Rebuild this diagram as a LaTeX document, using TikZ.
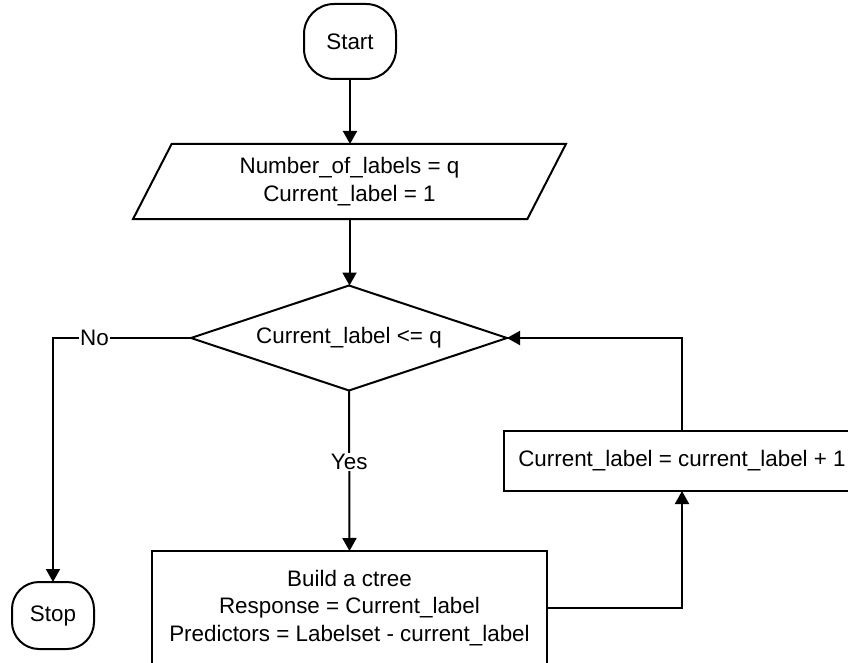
\documentclass[tikz,border=0pt]{standalone}
\usepackage{fontspec}
\setmainfont{Liberation Sans}
\usetikzlibrary{shapes.geometric,arrows.meta}
\begin{document}
\begin{tikzpicture}[x=1pt,y=-1pt,
  txt/.style={font=\fontsize{22.4}{27.5}\selectfont},
  base/.style={txt, draw, line width=2pt, align=center, inner sep=0pt, outer sep=0pt},
  term/.style={base, rectangle, rounded corners=30pt},
  arr/.style={line width=2pt, -{Triangle[length=13pt,width=14pt]}},
  lab/.style={txt, fill=white, inner sep=1pt}]
\useasboundingbox (0,0) rectangle (848,663);
\node[term, minimum width=92pt, minimum height=75pt] (start) at (350,41.5) {Start};
\node[base, trapezium, trapezium left angle=63.7, trapezium right angle=116.3,
      trapezium stretches=true, minimum width=433pt, minimum height=75pt]
      (para) at (349.5,181.5) {Number\_of\_labels = q\\Current\_label = 1};
\node[base, diamond, aspect=3, minimum width=316pt, minimum height=105pt]
      (dia) at (349,338) {Current\_label <= q};
\node[base, rectangle, minimum width=395pt, minimum height=114pt]
      (build) at (349.5,608) {Build a ctree\\Response = Current\_label\\Predictors = Labelset - current\_label};
\node[base, rectangle, minimum width=356pt, minimum height=60pt]
      (cur) at (682,461) {Current\_label = current\_label + 1};
\node[term, minimum width=82pt, minimum height=67pt, rounded corners=27pt]
      (stop) at (53,615.5) {Stop};
\draw[arr] (start.south) -- (start.south |- para.north);
\draw[arr] (para.south) -- (para.south |- dia.north);
\draw[arr] (dia.west) -| node[lab, pos=0.35]{No} (stop.north);
\draw[arr] (dia.south) -- node[lab, pos=0.447]{Yes} (build.north);
\draw[arr] (build.east) -| (cur.south);
\draw[arr] (cur.north) |- (dia.east);
\end{tikzpicture}
\end{document}
